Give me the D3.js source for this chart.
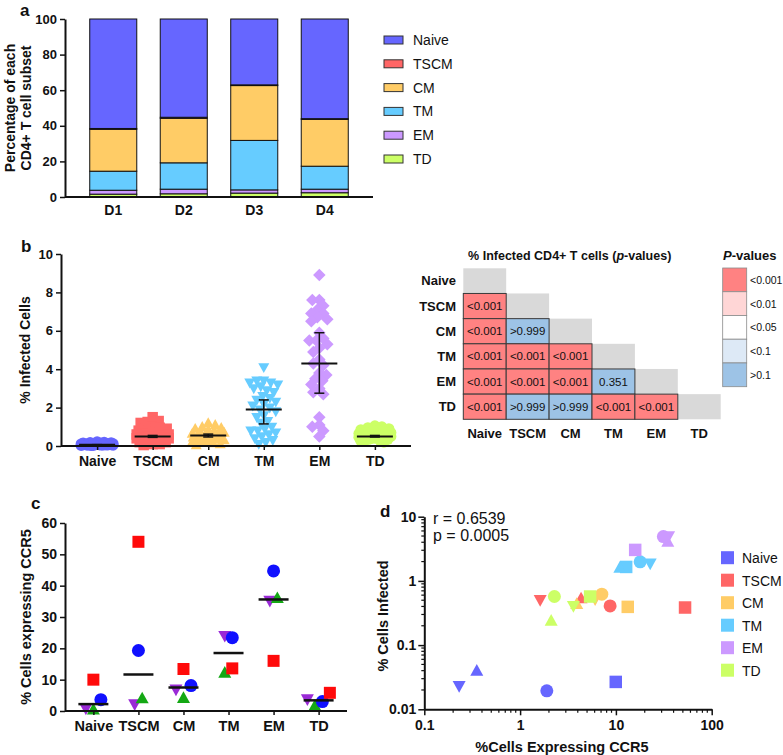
<!DOCTYPE html>
<html><head><meta charset="utf-8">
<script src="https://cdn.jsdelivr.net/npm/d3@7"></script>
<style>body{margin:0;background:#fff} svg{display:block} text{font-family:"Liberation Sans",Arial,sans-serif;fill:#111}</style>
</head><body><svg id="c" width="783" height="755"></svg>
<script>
// ================= DATA =================
const subsets = ["Naive","TSCM","CM","TM","EM","TD"];
const subsetColors = ["#6666ff","#ff6666","#ffcc66","#66ccff","#cc99ff","#ccff66"];

// Panel a: % of each CD4+ T cell subset per donor
const donors = ["D1","D2","D3","D4"];
const pctNaive = [61.5, 55.2, 37.0, 56.0];
const pctTSCM  = [0.5, 0.6, 0.4, 0.4];
const pctCM    = [23.5, 25.0, 30.8, 26.3];
const pctTM    = [10.7, 14.8, 27.8, 12.9];
const pctEM    = [2.2, 2.6, 1.8, 2.0];
const pctTD    = [1.6, 1.8, 2.2, 2.4];
const yTicksA  = [0, 20, 40, 60, 80, 100];

// Panel b: % infected cells
const infNaive = [0.02,0.03,0.03,0.04,0.04,0.05,0.05,0.05,0.06,0.06,0.07,0.07,0.08,0.08,0.08,0.09,0.09,0.1,0.1,0.11,0.12,0.12,0.13,0.14,0.15,0.16,0.17,0.18,0.2,0.22];
const infTSCM  = [1.5,1.3,1.25,1.2,1.0,0.95,0.9,0.9,0.8,0.75,0.7,0.7,0.65,0.6,0.6,0.55,0.5,0.5,0.45,0.45,0.4,0.4,0.35,0.3,0.3,0.25,0.2,0.2,0.15,0.1,0.1,0.05];
const infCM    = [1.2,1.1,1.0,0.95,0.9,0.85,0.8,0.75,0.7,0.7,0.65,0.6,0.6,0.55,0.55,0.5,0.5,0.45,0.45,0.4,0.4,0.35,0.3,0.3,0.25,0.2,0.2,0.15,0.1,0.05];
const infTM    = [4.1,3.4,3.4,3.3,3.3,3.2,3.1,3.0,2.9,2.8,2.6,2.5,2.4,2.3,2.2,2.1,2.0,1.9,1.8,1.6,1.5,1.3,1.2,1.0,0.9,0.8,0.8,0.7,0.6,0.5,0.4,0.3,0.2,0.1];
const infEM    = [8.9,7.6,7.6,7.3,7.1,6.9,6.9,6.7,6.6,6.5,5.9,5.6,5.5,5.5,5.3,5.1,4.9,4.5,4.3,4.2,3.8,3.7,3.5,3.4,3.2,3.0,2.8,2.7,1.5,1.1,1.0,0.8,0.5];
const infTD    = [1.05,1.0,0.95,0.9,0.85,0.8,0.8,0.75,0.7,0.7,0.65,0.6,0.6,0.55,0.55,0.5,0.5,0.5,0.45,0.45,0.4,0.4,0.35,0.35,0.3,0.3,0.25,0.2];
const infMedian = [0.06, 0.5, 0.55, 1.9, 4.3, 0.5];
const infQ1     = [0.05, 0.45, 0.47, 1.15, 2.75, 0.47];
const infQ3     = [0.07, 0.55, 0.62, 2.4, 5.9, 0.55];
const yTicksB   = [0, 2, 4, 6, 8, 10];
const infShapes = ["circle","square","up","down","diamond","circle"];

// Heatmap of p-values (lower triangle rows)
const pRowTSCM = ["<0.001"];
const pRowCM   = ["<0.001", ">0.999"];
const pRowTM   = ["<0.001", "<0.001", "<0.001"];
const pRowEM   = ["<0.001", "<0.001", "<0.001", "0.351"];
const pRowTD   = ["<0.001", ">0.999", ">0.999", "<0.001", "<0.001"];
const pLegendLabels = ["<0.001", "<0.01", "<0.05", "<0.1", ">0.1"];
const pLegendColors = ["#ff8282", "#ffd6d6", "#ffffff", "#dde9f6", "#9dc3e6"];

// Panel c: % cells expressing CCR5 (4 donors)
const ccr5Circle = [3.6, 19.3, 8.1, 23.4, 44.7, 3.0];
const ccr5Square = [10.0, 54.0, 13.4, 13.6, 16.0, 5.8];
const ccr5Down   = [0.8, 2.2, 6.9, 24.0, 35.2, 3.8];
const ccr5Up     = [0.4, 4.0, 4.1, 12.2, 36.0, 1.6];
const yTicksC    = [0, 10, 20, 30, 40, 50, 60];

// Panel d: CCR5 (x) vs infected (y), per subset, donors: circle, square, down, up
const dCircleX = [1.90, 8.7, 7.13, 17.9, 31.3, 2.28];
const dCircleY = [0.0194, 0.408, 0.621, 1.98, 4.91, 0.571];
const dSquareX = [9.97, 52.7, 13.3, 12.8, 15.9, 5.38];
const dSquareY = [0.0267, 0.385, 0.394, 1.65, 3.04, 0.571];
const dDownX   = [0.231, 1.62, 6.07, 22.8, 35.5, 3.6];
const dDownY   = [0.0231, 0.506, 0.519, 1.87, 5.0, 0.408];
const dUpX     = [0.353, 4.33, 3.9, 11.0, 34.8, 2.11];
const dUpY     = [0.0396, 0.532, 0.434, 1.6, 4.05, 0.238];
const dTicks   = [0.01, 0.1, 1, 10, 100];
const statR = "r = 0.6539", statP = "p = 0.0005";

// ================= HELPERS =================
const svg = d3.select("#c");
const color = d3.scaleOrdinal(subsets, subsetColors);
function shapePath(type, s) {
  const h = s / 2;
  switch (type) {
    case "circle": return `M${h},0A${h},${h},0,1,1,${-h},0A${h},${h},0,1,1,${h},0Z`;
    case "square": return `M${-h},${-h}H${h}V${h}H${-h}Z`;
    case "up": return `M0,${-h*1.05}L${h},${h*0.75}L${-h},${h*0.75}Z`;
    case "down": return `M0,${h*1.05}L${h},${-h*0.75}L${-h},${-h*0.75}Z`;
    case "diamond": return `M0,${-h}L${h},0L0,${h}L${-h},0Z`;
  }
}
function styleAxis(g, fs) {
  g.select(".domain").attr("stroke", "#111").attr("stroke-width", 2);
  g.selectAll(".tick line").attr("stroke", "#111").attr("stroke-width", 1.5);
  g.selectAll(".tick text").attr("font-size", fs).attr("font-weight", "bold")
    .attr("font-family", "'Liberation Sans', Arial, sans-serif").attr("fill", "#111");
}
function panelLabel(t, x, y) {
  svg.append("text").attr("x", x).attr("y", y).attr("font-size", 17).attr("font-weight", "bold").text(t);
}
function swarm(vals, y, maxHalf, minDist) {
  const pts = vals.map(v => ({ v, py: y(v) })).sort((a, b) => a.py - b.py);
  const placed = [];
  pts.forEach((p, i) => {
    let best = 0, bestScore = -Infinity, found = false;
    for (let k = 0; k <= maxHalf && !found; k += 1) {
      const offs = k === 0 ? [0] : (i % 2 ? [k, -k] : [-k, k]);
      for (const off of offs) {
        let md = Infinity;
        for (const q of placed) { const d = Math.hypot(q.dx - off, q.py - p.py); if (d < md) md = d; }
        if (md >= minDist) { best = off; found = true; break; }
        if (md > bestScore) { bestScore = md; best = off; }
      }
    }
    p.dx = best; placed.push(p);
  });
  return pts;
}

// ================= PANEL A =================
panelLabel("a", 20, 16);
const xA = d3.scaleBand().domain(donors).range([65, 373]).paddingInner(0.333).paddingOuter(0.351);
const yA = d3.scaleLinear().domain([0, 100]).range([197, 19]);
const pctBySubset = { Naive: pctNaive, TSCM: pctTSCM, CM: pctCM, TM: pctTM, EM: pctEM, TD: pctTD };
const rowsA = donors.map((d, i) => { const o = { donor: d }; subsets.forEach(s => o[s] = pctBySubset[s][i]); return o; });
const stackKeys = ["TD", "EM", "TM", "CM", "TSCM", "Naive"];
const series = d3.stack().keys(stackKeys)(rowsA);
svg.append("g").selectAll("g").data(series).join("g").attr("fill", d => color(d.key))
  .selectAll("rect").data(d => d).join("rect")
  .attr("x", d => xA(d.data.donor)).attr("width", xA.bandwidth())
  .attr("y", d => yA(d[1])).attr("height", d => yA(d[0]) - yA(d[1]))
  .attr("stroke", "#111").attr("stroke-width", 1);
const gyA = svg.append("g").attr("transform", "translate(65,0)")
  .call(d3.axisLeft(yA).tickValues(yTicksA).tickSize(5).tickSizeOuter(0).tickPadding(3));
styleAxis(gyA, 13);
const gxA = svg.append("g").attr("transform", "translate(0,197)")
  .call(d3.axisBottom(xA).tickSize(0).tickSizeOuter(0).tickPadding(8));
styleAxis(gxA, 14);
gxA.select(".domain").attr("d", "M65,0H373");
const ylabA = svg.append("text").attr("transform", "translate(15,108) rotate(-90)")
  .attr("text-anchor", "middle").attr("font-size", 14).attr("font-weight", "bold");
ylabA.append("tspan").attr("x", 0).attr("dy", 0).text("Percentage of each");
ylabA.append("tspan").attr("x", 0).attr("dy", 16).text("CD4+ T cell subset");
const legA = svg.append("g");
subsets.forEach((s, i) => {
  const y = 40 + i * 23.8;
  legA.append("rect").attr("x", 384).attr("y", y - 4).attr("width", 19).attr("height", 8)
    .attr("fill", color(s)).attr("stroke", "#333").attr("stroke-width", 1);
  legA.append("text").attr("x", 413).attr("y", y + 5).attr("font-size", 14).text(s);
});

// ================= PANEL B =================
panelLabel("b", 21, 252);
const xB = d3.scalePoint().domain(subsets).range([61, 411]).padding(0.65);
const yB = d3.scaleLinear().domain([0, 10]).range([446, 254]);
const infBySubset = [infNaive, infTSCM, infCM, infTM, infEM, infTD];
const gB = svg.append("g");
subsets.forEach((s, i) => {
  const pts = swarm(infBySubset[i], yB, 16, 6.5);
  const sz = infShapes[i] === "diamond" ? 12.5 : (infShapes[i] === "square" ? 10.5 : 11);
  gB.append("g").selectAll("path").data(pts).join("path")
    .attr("transform", d => `translate(${xB(s) + d.dx},${d.py})`)
    .attr("d", shapePath(infShapes[i], sz)).attr("fill", color(s));
});
const gyB = svg.append("g").attr("transform", "translate(61,0)")
  .call(d3.axisLeft(yB).tickValues(yTicksB).tickSize(5).tickSizeOuter(0).tickPadding(3));
styleAxis(gyB, 13);
const gxB = svg.append("g").attr("transform", "translate(0,446)")
  .call(d3.axisBottom(xB).tickSize(4).tickSizeOuter(0).tickPadding(6));
styleAxis(gxB, 14);
gxB.select(".domain").attr("d", "M61,0H411");
subsets.forEach((s, i) => {
  const cx = xB(s);
  const g = gB.append("g").attr("stroke", "#111");
  g.append("line").attr("x1", cx - 18).attr("x2", cx + 18).attr("y1", yB(infMedian[i])).attr("y2", yB(infMedian[i])).attr("stroke-width", 2);
  g.append("line").attr("x1", cx).attr("x2", cx).attr("y1", yB(infQ1[i])).attr("y2", yB(infQ3[i])).attr("stroke-width", 1.5);
  [infQ1[i], infQ3[i]].forEach(v => g.append("line").attr("x1", cx - 5).attr("x2", cx + 5).attr("y1", yB(v)).attr("y2", yB(v)).attr("stroke-width", 1.5));
});
svg.append("text").attr("transform", "translate(30,350) rotate(-90)").attr("text-anchor", "middle")
  .attr("font-size", 14).attr("font-weight", "bold").text("% Infected Cells");

// ================= HEATMAP =================
const HF = "Lato, 'Open Sans', sans-serif";
const pRows = [[], pRowTSCM, pRowCM, pRowTM, pRowEM, pRowTD];
const xH = d3.scaleBand().domain(subsets).range([463.3, 720.7]);
const yH = d3.scaleBand().domain(subsets).range([268.3, 419.3]);
const pNum = t => t.startsWith("<") ? +t.slice(1) / 2 : (t.startsWith(">") ? +t.slice(1) : +t);
const pColor = d3.scaleThreshold().domain([0.001, 0.01, 0.05, 0.1]).range(pLegendColors);
const gH = svg.append("g");
subsets.forEach((r, i) => {
  gH.append("rect").attr("x", xH(r)).attr("y", yH(r)).attr("width", xH.bandwidth()).attr("height", yH.bandwidth()).attr("fill", "#d9d9d9");
  pRows[i].forEach((t, j) => {
    const c = subsets[j];
    gH.append("rect").attr("x", xH(c)).attr("y", yH(r)).attr("width", xH.bandwidth()).attr("height", yH.bandwidth())
      .attr("fill", pColor(pNum(t))).attr("stroke", "#3a3a3a").attr("stroke-width", 1);
    gH.append("text").attr("x", xH(c) + xH.bandwidth() / 2).attr("y", yH(r) + yH.bandwidth() / 2 + 4)
      .attr("text-anchor", "middle").attr("font-family", HF).attr("font-size", 11.5).text(t);
  });
  gH.append("text").attr("x", 456).attr("y", yH(r) + yH.bandwidth() / 2 + 4.5).attr("text-anchor", "end")
    .attr("font-family", HF).attr("font-weight", "bold").attr("font-size", 13).text(r);
  gH.append("text").attr("x", xH(r) + xH.bandwidth() / 2).attr("y", 438).attr("text-anchor", "middle")
    .attr("font-family", HF).attr("font-weight", "bold").attr("font-size", 13).text(r);
});
const ht = gH.append("text").attr("x", 569.7).attr("y", 260).attr("text-anchor", "middle")
  .attr("font-family", HF).attr("font-weight", "bold").attr("font-size", 12.5);
ht.append("tspan").text("% Infected CD4+ T cells (");
ht.append("tspan").attr("font-style", "italic").text("p");
ht.append("tspan").text("-values)");
const lt = gH.append("text").attr("x", 723).attr("y", 260).attr("font-family", HF).attr("font-weight", "bold").attr("font-size", 13);
lt.append("tspan").attr("font-style", "italic").text("P");
lt.append("tspan").text("-values");
const yL = d3.scaleBand().domain(pLegendLabels).range([268, 386.7]);
pLegendLabels.forEach((t, i) => {
  gH.append("rect").attr("x", 722.7).attr("y", yL(t)).attr("width", 24).attr("height", yL.bandwidth())
    .attr("fill", pLegendColors[i]).attr("stroke", "#8a8a8a").attr("stroke-width", 0.8);
  gH.append("text").attr("x", 750).attr("y", yL(t) + yL.bandwidth() / 2 + 4).attr("font-family", HF).attr("font-size", 10.5).text(t);
});

// ================= PANEL C =================
panelLabel("c", 31, 509);
const xC = d3.scalePoint().domain(subsets).range([65, 347]).padding(0.63);
const yC = d3.scaleLinear().domain([0, 60]).range([711, 523]);
const cDonors = [
  { vals: ccr5Down, shape: "down", fill: "#9a2ad6" },
  { vals: ccr5Up, shape: "up", fill: "#14a814" },
  { vals: ccr5Circle, shape: "circle", fill: "#1010ff" },
  { vals: ccr5Square, shape: "square", fill: "#ff0a0a" }
];
const gC = svg.append("g");
subsets.forEach((s, i) => {
  const pts = cDonors.map((d, k) => ({ k, py: yC(d.vals[i]), d }));
  const sorted = pts.slice().sort((a, b) => a.py - b.py);
  const clusters = [];
  sorted.forEach(p => {
    const last = clusters[clusters.length - 1];
    if (last && p.py - last[last.length - 1].py < 12) last.push(p); else clusters.push([p]);
  });
  clusters.forEach(cl => {
    cl.sort((a, b) => a.k - b.k);
    cl.forEach((p, j) => p.dx = (j - (cl.length - 1) / 2) * 7.5);
  });
  pts.forEach(p => {
    gC.append("path").attr("transform", `translate(${xC(s) + p.dx},${p.py})`)
      .attr("d", shapePath(p.d.shape, p.d.shape === "square" ? 12 : 13)).attr("fill", p.d.fill);
  });
  const med = d3.median(cDonors.map(d => d.vals[i]));
  gC.append("line").attr("x1", xC(s) - 15).attr("x2", xC(s) + 15).attr("y1", yC(med)).attr("y2", yC(med))
    .attr("stroke", "#111").attr("stroke-width", 2.5);
});
const gyC = svg.append("g").attr("transform", "translate(65,0)")
  .call(d3.axisLeft(yC).tickValues(yTicksC).tickSize(5).tickSizeOuter(0).tickPadding(3));
styleAxis(gyC, 14);
const gxC = svg.append("g").attr("transform", "translate(0,711)")
  .call(d3.axisBottom(xC).tickSize(4).tickSizeOuter(0).tickPadding(6));
styleAxis(gxC, 14.5);
gxC.select(".domain").attr("d", "M65,0H347");
svg.append("text").attr("transform", "translate(31,617) rotate(-90)").attr("text-anchor", "middle")
  .attr("font-size", 14.5).attr("font-weight", "bold").text("% Cells expressing CCR5");

// ================= PANEL D =================
panelLabel("d", 380, 517);
const xD = d3.scaleLog().domain([0.1, 100]).range([424.3, 711.7]);
const yD = d3.scaleLog().domain([0.01, 10]).range([709.3, 516.7]);
const gD = svg.append("g");
const dDonors = [
  { xs: dSquareX, ys: dSquareY, shape: "square" },
  { xs: dUpX, ys: dUpY, shape: "up" },
  { xs: dDownX, ys: dDownY, shape: "down" },
  { xs: dCircleX, ys: dCircleY, shape: "circle" }
];
subsets.forEach((s, i) => {
  dDonors.forEach(d => {
    gD.append("path").attr("transform", `translate(${xD(d.xs[i])},${yD(d.ys[i])})`)
      .attr("d", shapePath(d.shape, d.shape === "square" ? 12.5 : 13)).attr("fill", color(s));
  });
});
const minorX = [], minorY = [];
[0.1, 1, 10].forEach(b => { for (let m = 2; m <= 9; m++) minorX.push(b * m); });
[0.01, 0.1, 1].forEach(b => { for (let m = 2; m <= 9; m++) minorY.push(b * m); });
const gyD = svg.append("g").attr("transform", "translate(424.3,0)")
  .call(d3.axisLeft(yD).tickValues(dTicks.filter(t => t <= 10)).tickFormat(d => String(d)).tickSize(6).tickSizeOuter(0).tickPadding(2));
styleAxis(gyD, 14);
gyD.selectAll(".minor").data(minorY).join("line").attr("class", "minor")
  .attr("x1", -3).attr("x2", 0).attr("y1", d => yD(d)).attr("y2", d => yD(d)).attr("stroke", "#111").attr("stroke-width", 1.2);
const gxD = svg.append("g").attr("transform", "translate(0,709.3)")
  .call(d3.axisBottom(xD).tickValues(dTicks.filter(t => t >= 0.1)).tickFormat(d => String(d)).tickSize(6).tickSizeOuter(0).tickPadding(5));
styleAxis(gxD, 14);
gxD.selectAll(".minor").data(minorX).join("line").attr("class", "minor")
  .attr("y1", 0).attr("y2", 3.5).attr("x1", d => xD(d)).attr("x2", d => xD(d)).attr("stroke", "#111").attr("stroke-width", 1.2);
svg.append("text").attr("x", 562).attr("y", 752).attr("text-anchor", "middle")
  .attr("font-size", 14.5).attr("font-weight", "bold").text("%Cells Expressing CCR5");
svg.append("text").attr("transform", "translate(388,616) rotate(-90)").attr("text-anchor", "middle")
  .attr("font-size", 14.5).attr("font-weight", "bold").text("% Cells Infected");
svg.append("text").attr("x", 433).attr("y", 524).attr("font-size", 16).text(statR);
svg.append("text").attr("x", 433).attr("y", 541).attr("font-size", 16).text(statP);
subsets.forEach((s, i) => {
  const y = 557.7 + i * 22.5;
  svg.append("rect").attr("x", 721).attr("y", y - 6.5).attr("width", 13).attr("height", 13).attr("fill", color(s));
  svg.append("text").attr("x", 742).attr("y", y + 5.5).attr("font-size", 14).text(s);
});
</script></body></html>
